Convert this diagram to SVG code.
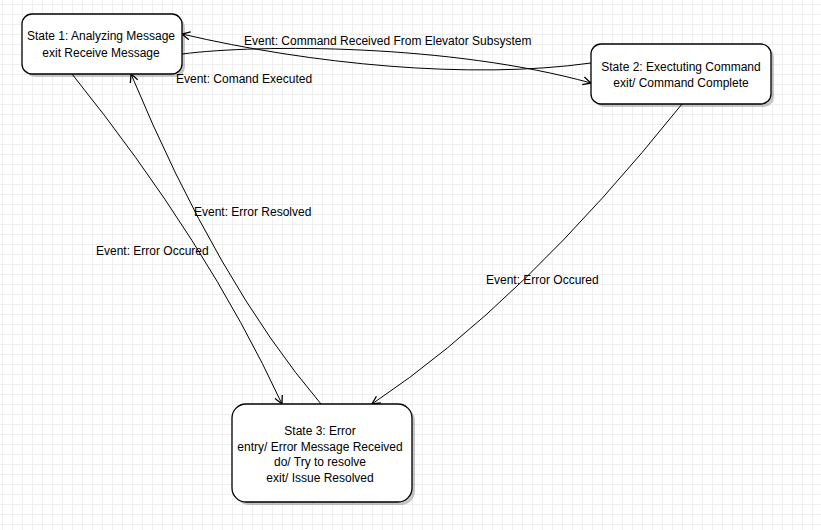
<svg xmlns="http://www.w3.org/2000/svg" width="821" height="530" viewBox="0 0 821 530">
<style>
.node rect.box{fill:#fff;stroke:#000;stroke-width:1.3}
.node rect.sh{fill:#000;opacity:0.22}
text{font-family:"Liberation Sans",Arial,sans-serif;font-size:12px;fill:#000}
.c{text-anchor:middle}
.edge{fill:none;stroke:#000;stroke-width:1}
</style>
<defs>
<pattern id="grid" x="2" y="4" width="10" height="10" patternUnits="userSpaceOnUse">
<path d="M0.5,0 V10 M0,0.5 H10" stroke="#efefef" stroke-width="1" fill="none"/>
</pattern>
<marker id="open" viewBox="0 0 10 10" refX="9" refY="5" markerWidth="10" markerHeight="10" markerUnits="userSpaceOnUse" orient="auto">
<path d="M1,1 L9,5 L1,9" fill="none" stroke="#000" stroke-width="1.3"/>
</marker>
</defs>
<rect width="821" height="530" fill="#fff"/>
<rect width="821" height="530" fill="url(#grid)"/>

<g id="connectors">
<path class="edge" d="M182,54 C260,44 450,44 591,83" marker-end="url(#open)"/>
<path class="edge" d="M591,63 C470,80 310,64 182,34" marker-end="url(#open)"/>
<path class="edge" d="M72,74 Q207,242 282,404" marker-end="url(#open)"/>
<path class="edge" d="M321,404 Q218,283 131,74" marker-end="url(#open)"/>
<path class="edge" d="M682,104 Q522,304 372,404" marker-end="url(#open)"/>
<text x="244" y="45">Event: Command Received From Elevator Subsystem</text>
<text x="176" y="83">Event: Comand Executed</text>
<text x="96" y="255">Event: Error Occured</text>
<text x="194" y="216">Event: Error Resolved</text>
<text x="486" y="284">Event: Error Occured</text>
</g>

<g id="state1" class="node">
<rect class="sh" x="25" y="17" width="160" height="60" rx="10"/>
<rect class="box" x="22" y="14" width="160" height="60" rx="10"/>
<text class="c" x="101" y="40">State 1: Analyzing Message</text>
<text class="c" x="101" y="57">exit Receive Message</text>
</g>

<g id="state2" class="node">
<rect class="sh" x="594" y="47" width="180" height="60" rx="10"/>
<rect class="box" x="591" y="44" width="180" height="60" rx="10"/>
<text class="c" x="681" y="71">State 2: Exectuting Command</text>
<text class="c" x="681" y="87">exit/ Command Complete</text>
</g>

<g id="state3" class="node">
<rect class="sh" x="235" y="407" width="180" height="98" rx="14"/>
<rect class="box" x="232" y="404" width="180" height="98" rx="14"/>
<text class="c" x="320" y="435">State 3: Error</text>
<text class="c" x="320" y="451">entry/ Error Message Received</text>
<text class="c" x="320" y="466">do/ Try to resolve</text>
<text class="c" x="320" y="482">exit/ Issue Resolved</text>
</g>
</svg>
